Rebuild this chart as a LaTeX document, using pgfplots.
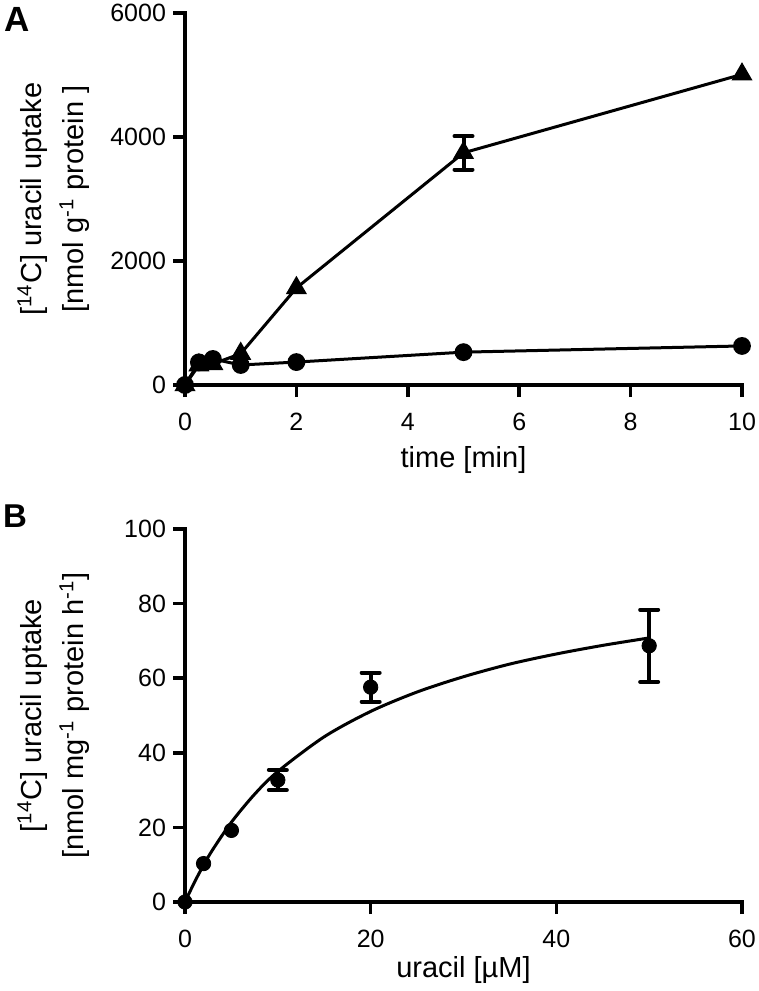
\documentclass[border=0pt]{standalone}
\usepackage{pgfplots}
\pgfplotsset{compat=1.18}
\usepackage{fontspec}
\setmainfont{Liberation Sans}
\newcommand{\tickfont}{\fontsize{12.5}{15}\selectfont}
\newcommand{\labfont}{\fontsize{14.5}{17}\selectfont}
\pgfplotsset{
  panel/.style={
    scale only axis,
    width=278.5pt,
    axis x line*=bottom,
    axis y line*=left,
    axis line style={line width=1.8pt, line cap=rect},
    tick align=outside,
    major tick length=6pt,
    every tick/.style={line width=1.8pt, black},
    xticklabel style={font=\tickfont, yshift=-4.5pt},
    yticklabel style={font=\tickfont},
    /pgf/number format/assume math mode=true,
    /pgf/number format/1000 sep={},
    xlabel style={font=\labfont},
    ylabel style={font=\labfont, at={(axis description cs:-0.236,0.5)}, anchor=center, align=center, rotate=0},
    clip=false,
  },
  errstyle/.style={
    error bars/.cd, y dir=both, y explicit,
    error mark=|,
    error mark options={line width=2pt, mark size=4.5pt, line cap=round, black},
    error bar style={line width=2pt, black, solid},
  },
}
\begin{document}
\begin{tikzpicture}[x=1pt,y=1pt,font=\tickfont]
\path[use as bounding box] (0,0) rectangle (379.5,-495.5);
% Panel A
\begin{axis}[panel,
  at={(92.5pt,-192.5pt)}, anchor=south west,
  height=186pt,
  xmin=0, xmax=10, ymin=0, ymax=6000,
  xtick={0,2,4,6,8,10},
  ytick={0,2000,4000,6000},
  xlabel style={at={(axis description cs:0.5,0)}, anchor=center, yshift=-37.5pt},
  xlabel={time [min]},
  ylabel={{[}\textsuperscript{14}C] uracil uptake\\[4pt]{[}nmol g\textsuperscript{-1} protein ]},
]
\addplot[black, line width=1.5pt, mark=*, mark size=3.7pt, mark options={solid, fill=black}]
  coordinates {(0,0) (0.25,365) (0.5,420) (1,323) (2,370) (5,530) (10,630)};
\addplot[black, line width=1.5pt, mark=triangle*, mark size=4.6pt, mark options={solid, fill=black}]
  coordinates {(0,0) (0.25,320) (0.5,340) (1,505) (2,1565) (5,3745) (10,5010)};
\addplot[black, only marks, mark=none, errstyle]
  coordinates {(5,3745) +- (0,270)};
\end{axis}
% Panel B
\begin{axis}[panel,
  at={(92.5pt,-451pt)}, anchor=south west,
  height=186.5pt,
  xmin=0, xmax=60, ymin=0, ymax=100,
  xtick={0,20,40,60},
  ytick={0,20,40,60,80,100},
  xlabel style={at={(axis description cs:0.5,0)}, anchor=center, yshift=-34pt},
  xlabel={uracil [µM]},
  ylabel={{[}\textsuperscript{14}C] uracil uptake\\[4pt]{[}nmol mg\textsuperscript{-1} protein h\textsuperscript{-1}]},
]
% fitted saturation curve
\addplot[black, line width=1.5pt, smooth, no marks]
  coordinates {(0,0) (1,5.2) (2,9.9) (3,14.1) (5,21.4) (7.5,28.9) (10,35.0) (15,44.3) (20,51.1) (25,56.3) (30,60.4) (35,63.8) (40,66.5) (45,68.8) (50,70.8)};
\addplot[black, only marks, mark=*, mark size=3.6pt]
  coordinates {(0,0) (2,10.3) (5,19.2) (10,32.7) (20,57.6) (50,68.7)};
\addplot[black, only marks, mark=none, errstyle]
  coordinates {(10,32.7) +- (0,2.7) (20,57.6) +- (0,3.9) (50,68.7) +- (0,9.7)};
\end{axis}
\node[font=\bfseries\fontsize{17.5}{20}\selectfont] at (8.5,-9.75) {A};
\node[font=\bfseries\fontsize{16.5}{19}\selectfont] at (7.5,-258) {B};
\end{tikzpicture}
\end{document}
